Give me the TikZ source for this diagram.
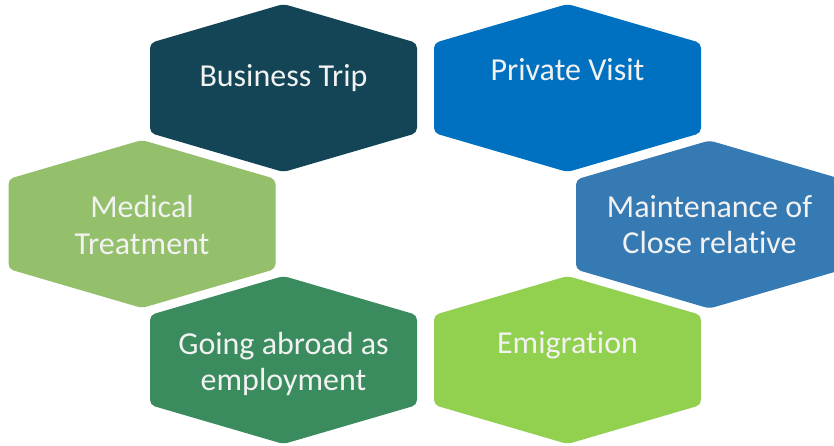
\documentclass[tikz,border=0pt]{standalone}
\usepackage{fontspec}
\setmainfont{Carlito}[Ligatures={NoCommon,NoContextual}]
\usepackage{xcolor}
\definecolor{TripTeal}{HTML}{134556}
\definecolor{VisitBlue}{HTML}{0070C0}
\definecolor{MedGreen}{HTML}{94C06C}
\definecolor{UpkeepBlue}{HTML}{367AB4}
\definecolor{JobGreen}{HTML}{3A8B5E}
\definecolor{EmigGreen}{HTML}{92D050}
\definecolor{LabelWhite}{HTML}{F2F2F2}
\tikzset{
    % Hexagon tiles - flat sides left and right, slightly rounded corners
    hextile/.style={
        rounded corners=5pt
    },
    hexlabel/.style={
        text=LabelWhite,
        align=center,
        inner sep=0pt,
        font=\fontsize{32}{36}\selectfont
    }
}

\begin{document}
\begin{tikzpicture}[x=1pt, y=-1pt]
    \useasboundingbox (0,0) rectangle (834,445);
    \clip (0,0) rectangle (834,445);

    % name / centre x / centre y / fill / label shift / label
    \foreach \name/\cx/\cy/\col/\dy/\txt in {
        trip/283.5/88/TripTeal/-10/{Business Trip},
        visit/567.5/88/VisitBlue/-18/{Private Visit},
        medical/142/224/MedGreen/1/{Medical\\Treatment},
        upkeep/709.5/224.5/UpkeepBlue/0/{Maintenance of\\Close relative},
        jobs/283.5/360/JobGreen/4/{Going abroad as\\employment},
        emigr/567.5/360/EmigGreen/-15/{Emigration}}{
        \fill[hextile, \col] (\cx,\cy) ++(0,-84) -- ++(133.5,39) -- ++(0,90)
            -- ++(-133.5,39) -- ++(-133.5,-39) -- ++(0,-90) -- cycle;
        \node[hexlabel] (\name) at (\cx,\cy+\dy) {\txt};
    }
\end{tikzpicture}
\end{document}
